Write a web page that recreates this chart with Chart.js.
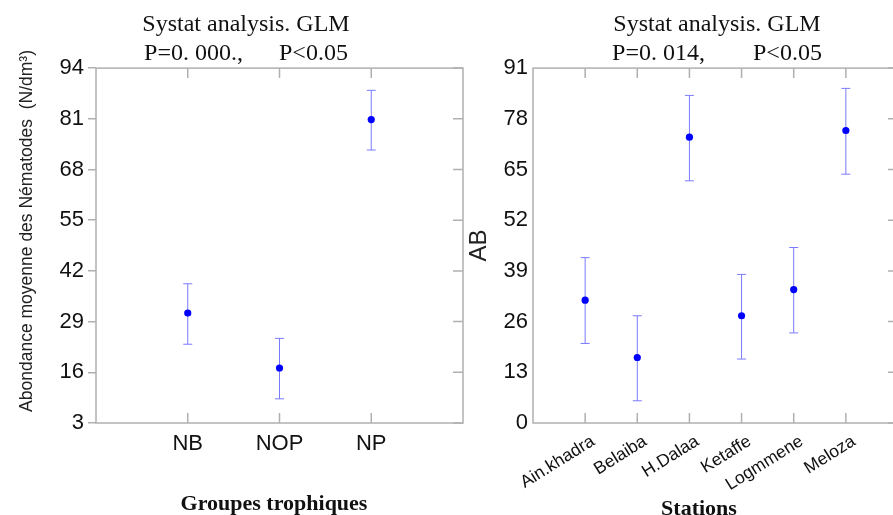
<!DOCTYPE html>
<html>
<head>
<meta charset="utf-8">
<script src="https://cdn.jsdelivr.net/npm/chart.js@4.4.1/dist/chart.umd.min.js"></script>
<style>
  html, body { margin: 0; padding: 0; background: #fff; overflow: hidden; width: 893px; height: 515px; }
  canvas { position: absolute; top: 0; }
  #groupChart { left: 0; }
  #stationChart { left: 455px; }
</style>
</head>
<body>
<canvas id="groupChart" width="492" height="515"></canvas>
<canvas id="stationChart" width="524" height="530"></canvas>
<script>
// Left panel: trophic groups
const groups = ['NB', 'NOP', 'NP'];
const groupMean = [31.2, 17.1, 80.8];
const groupLow = [23.2, 9.2, 73.0];
const groupHigh = [38.7, 24.7, 88.3];
const groupTicks = { min: 3, max: 94, step: 13 };

// Right panel: stations
const stations = ['Ain.khadra', 'Belaiba', 'H.Dalaa', 'Ketaffe', 'Logmmene', 'Meloza'];
const stationMean = [31.5, 16.8, 73.3, 27.5, 34.2, 75.0];
const stationLow = [20.4, 5.7, 62.1, 16.4, 23.1, 63.8];
const stationHigh = [42.4, 27.5, 84.0, 38.1, 45.0, 85.8];
const stationTicks = { min: 0, max: 91, step: 13 };

Chart.defaults.font.family = '"Liberation Sans", Arial, sans-serif';
Chart.defaults.color = '#111';

const FRAME = '#b0b0b0';
const BAR = '#7a7aff';
const DOT = '#0000ff';

// vertical error bars with caps, drawn under the points
const errorBars = {
  id: 'errorBars',
  beforeDatasetsDraw(chart) {
    const { ctx, scales: { x, y } } = chart;
    const ds = chart.data.datasets[0];
    ctx.save();
    ctx.strokeStyle = BAR;
    ctx.lineWidth = 1;
    ds.data.forEach((p, i) => {
      const px = x.getPixelForValue(p.x);
      const lo = y.getPixelForValue(ds.errLow[i]);
      const hi = y.getPixelForValue(ds.errHigh[i]);
      ctx.beginPath();
      ctx.moveTo(px, lo); ctx.lineTo(px, hi);
      ctx.moveTo(px - 4.5, lo); ctx.lineTo(px + 4.5, lo);
      ctx.moveTo(px - 4.5, hi); ctx.lineTo(px + 4.5, hi);
      ctx.stroke();
    });
    ctx.restore();
  }
};

// box around the plot with inward ticks (top, bottom, right)
const frameTicks = {
  id: 'frameTicks',
  afterDraw(chart, args, opts) {
    const { ctx, chartArea: a, scales: { x, y } } = chart;
    const len = opts.len || 10;
    ctx.save();
    ctx.strokeStyle = FRAME;
    ctx.lineWidth = 1.5;
    ctx.strokeRect(a.left, a.top, a.right - a.left, a.bottom - a.top);
    ctx.beginPath();
    x.ticks.forEach(t => {
      const px = x.getPixelForValue(t.value);
      ctx.moveTo(px, a.top); ctx.lineTo(px, a.top + len);
      ctx.moveTo(px, a.bottom); ctx.lineTo(px, a.bottom - len);
    });
    y.ticks.forEach(t => {
      const py = y.getPixelForValue(t.value);
      ctx.moveTo(a.right, py); ctx.lineTo(a.right - len, py);
    });
    ctx.stroke();
    ctx.restore();
  }
};

function makeChart(id, cfg) {
  const n = cfg.labels.length;
  return new Chart(document.getElementById(id), {
    type: 'scatter',
    data: {
      datasets: [{
        data: cfg.mean.map((v, i) => ({ x: i + 1, y: v })),
        errLow: cfg.low,
        errHigh: cfg.high,
        pointRadius: 3.6,
        pointHoverRadius: 3.6,
        pointBorderWidth: 0,
        backgroundColor: DOT,
        borderColor: DOT
      }]
    },
    options: {
      responsive: false,
      animation: false,
      events: [],
      layout: { padding: 0 },
      plugins: {
        legend: { display: false },
        tooltip: { enabled: false },
        title: {
          display: true,
          text: cfg.title,
          font: { family: '"Liberation Serif", "Times New Roman", serif', size: 24, weight: 'normal' },
          color: '#111',
          padding: { top: 10.5, bottom: 0 }
        },
        frameTicks: { len: 10 }
      },
      scales: {
        x: {
          type: 'linear',
          min: 0,
          max: n + 1,
          afterBuildTicks: s => { s.ticks = cfg.labels.map((_, i) => ({ value: i + 1 })); },
          afterFit: s => { s.height = cfg.xHeight; },
          grid: { display: false, drawTicks: false },
          border: { display: false },
          ticks: {
            autoSkip: false,
            minRotation: cfg.rotation,
            maxRotation: cfg.rotation,
            padding: cfg.xPad,
            labelOffset: cfg.labelOffset,
            font: { size: cfg.xFont },
            color: '#111',
            callback: v => cfg.labels[v - 1]
          },
          title: {
            display: true,
            text: cfg.xTitle,
            font: { family: '"Liberation Serif", "Times New Roman", serif', size: 22, weight: 'bold', lineHeight: 1 },
            color: '#111',
            padding: { top: 0, bottom: cfg.xTitlePad }
          }
        },
        y: {
          min: cfg.ticks.min,
          max: cfg.ticks.max,
          afterFit: s => { s.width = cfg.yWidth; },
          grid: {
            display: cfg.outTicks,
            drawOnChartArea: false,
            drawTicks: cfg.outTicks,
            tickLength: 8,
            color: FRAME,
            lineWidth: 1.5
          },
          border: { display: false },
          ticks: {
            stepSize: cfg.ticks.step,
            padding: cfg.outTicks ? 4 : 5,
            font: { size: 22 },
            color: '#111'
          },
          title: {
            display: true,
            text: cfg.yTitle,
            font: { size: cfg.yTitleSize, lineHeight: 1 },
            color: '#222',
            padding: { top: cfg.yTitlePad, bottom: 0 }
          }
        },
        // empty right-hand spacer so the title centres where the original does
        y2: {
          position: 'right',
          min: 0,
          max: 1,
          afterFit: s => { s.width = cfg.rightGap; },
          grid: { display: false, drawTicks: false },
          border: { display: false },
          ticks: { display: false }
        }
      }
    },
    plugins: [errorBars, frameTicks]
  });
}

makeChart('groupChart', {
  labels: groups, mean: groupMean, low: groupLow, high: groupHigh, ticks: groupTicks,
  title: ['Systat analysis. GLM', 'P=0. 000.,      P<0.05'],
  xTitle: 'Groupes trophiques  ',
  yTitle: '      Abondance moyenne des Nématodes  (N/dm³)',
  yTitleSize: 17.5, yTitlePad: 18,
  xHeight: 92, yWidth: 96, rightGap: 29,
  rotation: 0, xPad: 8, labelOffset: 0, xFont: 22, xTitlePad: 0,
  outTicks: true
});

makeChart('stationChart', {
  labels: stations, mean: stationMean, low: stationLow, high: stationHigh, ticks: stationTicks,
  title: ['Systat analysis. GLM', 'P=0. 014,        P<0.05'],
  xTitle: 'Stations      ',
  yTitle: 'AB',
  yTitleSize: 24, yTitlePad: 12,
  xHeight: 107, yWidth: 78, rightGap: 81,
  rotation: 32, xPad: 8, labelOffset: 8, xFont: 17.5, xTitlePad: 10,
  outTicks: false
});
</script>
</body>
</html>
